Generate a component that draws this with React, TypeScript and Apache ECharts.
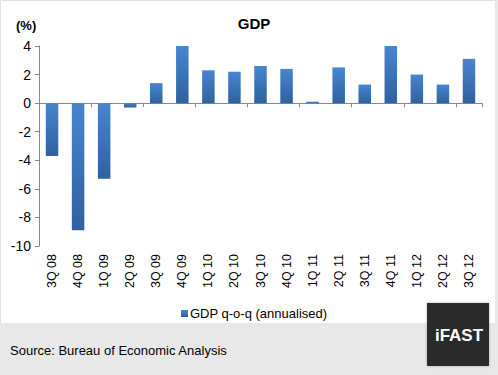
import React, { useEffect, useRef } from "react";
import * as echarts from "echarts";

const categories = ["3Q 08", "4Q 08", "1Q 09", "2Q 09", "3Q 09", "4Q 09", "1Q 10", "2Q 10", "3Q 10", "4Q 10", "1Q 11", "2Q 11", "3Q 11", "4Q 11", "1Q 12", "2Q 12", "3Q 12"];
const gdpValues = [-3.7, -8.9, -5.3, -0.3, 1.4, 4.0, 2.3, 2.2, 2.6, 2.4, 0.1, 2.5, 1.3, 4.0, 2.0, 1.3, 3.1];
const seriesName = "GDP q-o-q (annualised)";
const titleText = "GDP";
const unitText = "(%)";
const sourceText = "Source: Bureau of Economic Analysis";
const logoText = "iFAST";

export default function App() {
  const ref = useRef<HTMLDivElement>(null);
  useEffect(() => {
    if (!ref.current) return;
    const chart = echarts.init(ref.current, null, { renderer: "svg" });
    const font = "Liberation Sans, Arial, sans-serif";
    const barColor = new echarts.graphic.LinearGradient(0, 0, 0, 1, [
      { offset: 0, color: "#4885d0" },
      { offset: 1, color: "#2f619f" },
    ]);
    chart.setOption({
      animation: false,
      backgroundColor: "#ffffff",
      textStyle: { fontFamily: font },
      title: {
        text: titleText,
        left: 249,
        top: 11,
        textAlign: "center",
        textStyle: { fontSize: 15, fontWeight: "bold", color: "#000", fontFamily: font },
      },
      legend: {
        data: [seriesName],
        left: 176,
        top: 302,
        itemWidth: 7,
        itemHeight: 7,
        itemGap: 4,
        icon: "rect",
        textStyle: { fontSize: 13, color: "#000", fontFamily: font, padding: [0, 0, 0, -3] },
      },
      grid: { left: 39, right: 16, top: 46, bottom: 129, containLabel: false },
      xAxis: [
        {
          type: "category",
          data: categories,
          position: "bottom",
          axisLine: { show: false, onZero: false },
          axisTick: { show: false },
          axisLabel: { rotate: 90, margin: 8, fontSize: 12.5, color: "#000", fontFamily: font, interval: 0 },
        },
        {
          type: "category",
          data: categories,
          position: "bottom",
          axisLine: { show: true, onZero: true, lineStyle: { color: "#878787", width: 1 } },
          axisTick: { show: true, length: 4, lineStyle: { color: "#878787" } },
          axisLabel: { show: false },
        },
      ],
      yAxis: {
        type: "value",
        min: -10,
        max: 4,
        interval: 2,
        axisLine: { show: true, lineStyle: { color: "#878787", width: 1 } },
        axisTick: { show: true, length: 4, lineStyle: { color: "#878787" } },
        splitLine: { show: false },
        axisLabel: { margin: 8, fontSize: 14, color: "#000", fontFamily: font },
      },
      series: [
        {
          name: seriesName,
          type: "bar",
          xAxisIndex: 0,
          data: gdpValues,
          barWidth: "48%",
          itemStyle: { color: barColor },
        },
      ],
      graphic: [
        {
          type: "rect",
          silent: true,
          z: -1,
          shape: { x: 0.5, y: 0.5, width: 496, height: 374 },
          style: { fill: "none", stroke: "#e0e0e0", lineWidth: 1 },
        },
        {
          type: "rect",
          silent: true,
          shape: { x: 0, y: 323, width: 498, height: 52 },
          style: { fill: "#e8e8e8" },
        },
        {
          type: "rect",
          silent: true,
          shape: { x: 495, y: 0, width: 3, height: 375 },
          style: { fill: "#e8e8e8" },
        },
        {
          type: "text",
          left: 16,
          top: 19,
          style: { text: unitText, fontSize: 13, fontWeight: "bold", fill: "#000", fontFamily: font },
        },
        {
          type: "text",
          left: 10,
          top: 344,
          style: { text: sourceText, fontSize: 13, fill: "#000", fontFamily: font },
        },
        {
          type: "rect",
          silent: true,
          shape: { x: 427, y: 303, width: 62, height: 63 },
          style: { fill: "#2b2b2b", shadowBlur: 3, shadowColor: "rgba(0,0,0,0.25)" },
        },
        {
          type: "text",
          x: 459,
          y: 335,
          style: {
            text: logoText,
            fontSize: 17,
            fontWeight: "bold",
            fill: "#ffffff",
            fontFamily: font,
            align: "center",
            verticalAlign: "middle",
          },
        },
      ],
    });
    return () => chart.dispose();
  }, []);
  return (
    <div
      ref={ref}
      style={{ position: "fixed", left: 0, top: 0, width: 498, height: 375 }}
    />
  );
}
